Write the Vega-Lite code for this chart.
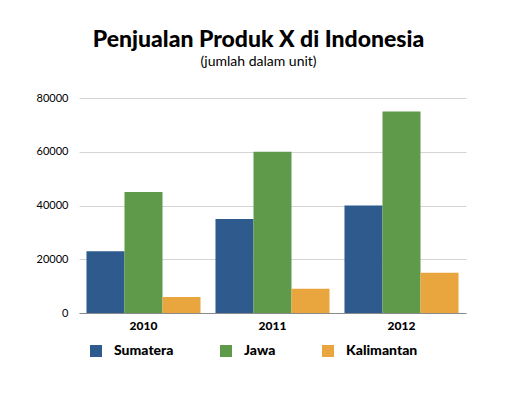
{
  "$schema": "https://vega.github.io/schema/vega-lite/v6.json",
  "width": 387,
  "height": 215,
  "autosize": {"type": "none"},
  "padding": {"left": 79, "top": 98, "right": 54, "bottom": 81},
  "background": "white",
  "title": {
    "text": "Penjualan Produk X di Indonesia",
    "subtitle": "(jumlah dalam unit)",
    "anchor": "middle",
    "dx": -14,
    "font": "Lato",
    "fontSize": 23,
    "fontWeight": 900,
    "color": "#000000",
    "subtitleFont": "Lato",
    "subtitleFontSize": 14,
    "subtitleColor": "#000000",
    "subtitlePadding": 3,
    "offset": 23
  },
  "data": {
    "values": [
      {"tahun": "2010", "pulau": "Sumatera", "unit": 23000},
      {"tahun": "2010", "pulau": "Jawa", "unit": 45000},
      {"tahun": "2010", "pulau": "Kalimantan", "unit": 6000},
      {"tahun": "2011", "pulau": "Sumatera", "unit": 35000},
      {"tahun": "2011", "pulau": "Jawa", "unit": 60000},
      {"tahun": "2011", "pulau": "Kalimantan", "unit": 9000},
      {"tahun": "2012", "pulau": "Sumatera", "unit": 40000},
      {"tahun": "2012", "pulau": "Jawa", "unit": 75000},
      {"tahun": "2012", "pulau": "Kalimantan", "unit": 15000}
    ]
  },
  "mark": {"type": "bar"},
  "encoding": {
    "x": {
      "field": "tahun",
      "type": "nominal",
      "scale": {"paddingInner": 0.116, "paddingOuter": 0.058},
      "axis": {
        "title": null,
        "labelAngle": 0,
        "labelFont": "Lato",
        "labelFontSize": 12,
        "labelFontWeight": 900,
        "labelColor": "#000000",
        "labelPadding": 7,
        "ticks": false,
        "domainColor": "#8a8a8a",
        "domainWidth": 1
      }
    },
    "xOffset": {
      "field": "pulau",
      "type": "nominal",
      "sort": ["Sumatera", "Jawa", "Kalimantan"],
      "scale": {"paddingInner": 0, "paddingOuter": 0}
    },
    "y": {
      "field": "unit",
      "type": "quantitative",
      "scale": {"domain": [0, 80000], "nice": false},
      "axis": {
        "title": null,
        "values": [0, 20000, 40000, 60000, 80000],
        "format": "d",
        "labelFont": "Lato",
        "labelFontSize": 11,
        "labelColor": "#000000",
        "labelPadding": 11,
        "ticks": false,
        "domain": false,
        "gridColor": "#d4d4d4",
        "gridWidth": 1
      }
    },
    "color": {
      "field": "pulau",
      "type": "nominal",
      "sort": ["Sumatera", "Jawa", "Kalimantan"],
      "scale": {
        "domain": ["Sumatera", "Jawa", "Kalimantan"],
        "range": ["#2e5a8e", "#5f9a4a", "#e9a53e"]
      },
      "legend": {
        "title": null,
        "orient": "none",
        "legendX": 10,
        "legendY": 246,
        "direction": "horizontal",
        "symbolType": "square",
        "symbolSize": 144,
        "symbolStrokeWidth": 0,
        "labelFont": "Lato",
        "labelFontSize": 14,
        "labelFontWeight": 900,
        "labelColor": "#000000",
        "labelOffset": 11,
        "columnPadding": 45
      }
    }
  },
  "config": {
    "view": {"stroke": null}
  }
}
